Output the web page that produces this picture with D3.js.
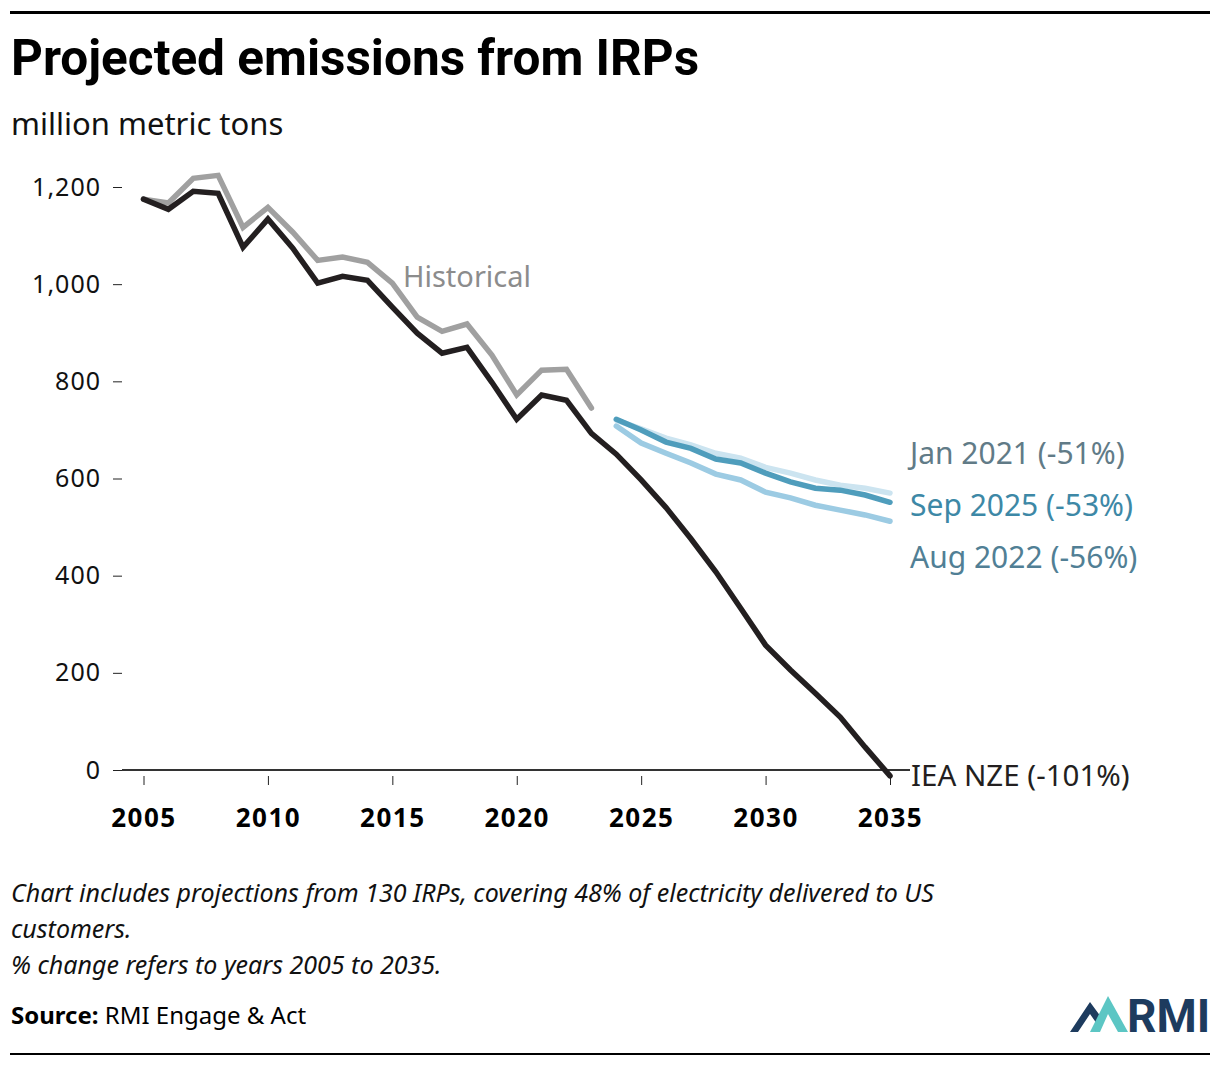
<!DOCTYPE html>
<meta charset="utf-8">
<head>
    <script src="https://d3js.org/d3.v7.min.js"></script>
    <style>
        body { margin: 0; background: #fff; }
        text { font-family: "Noto Sans", sans-serif; }
    </style>
</head>
<body>
<div id="my_dataviz"></div>
</body>

<script>

    // data (million metric tons)
    var histYears = d3.range(2005, 2024);
    var historical = [1175, 1167, 1218, 1224, 1117, 1158, 1107, 1049, 1056, 1045, 1002, 932, 903, 918, 854, 772, 823, 825, 745];

    var nzeYears = d3.range(2005, 2036);
    var ieaNze = [1175, 1154, 1191, 1187, 1076, 1134, 1074, 1002, 1016, 1008, 953, 899, 858, 870, 798, 722, 772, 761, 693,
                  650, 597, 540, 476, 408, 333, 257, 206, 158, 109, 47, -12];

    var irpYears = d3.range(2024, 2036);
    var jan2021 = [720, 702, 683, 669, 652, 642, 623, 611, 597, 586, 580, 570];
    var aug2022 = [708, 673, 652, 632, 609, 597, 572, 560, 545, 535, 525, 512];
    var sep2025 = [722, 700, 675, 662, 640, 632, 611, 593, 580, 576, 566, 551];

    var yTicks = [0, 200, 400, 600, 800, 1000, 1200];
    var xTicks = [2005, 2010, 2015, 2020, 2025, 2030, 2035];

    var W = 1220, H = 1066;
    var svg = d3.select("#my_dataviz")
        .append("svg")
        .attr("width", W)
        .attr("height", H);

    // scales
    var x = d3.scaleLinear().domain([2005, 2035]).range([143.5, 890]);
    var y = d3.scaleLinear().domain([0, 1200]).range([770, 187]);

    // top and bottom rules
    svg.append("rect").attr("x", 10).attr("y", 11).attr("width", 1200).attr("height", 3).attr("fill", "#000");
    svg.append("rect").attr("x", 10).attr("y", 1053).attr("width", 1200).attr("height", 2).attr("fill", "#000");

    // title + unit
    svg.append("text")
        .attr("x", 11).attr("y", 75)
        .style("font-family", "Roboto, sans-serif")
        .style("font-weight", 700)
        .style("font-size", "49.5px")
        .attr("fill", "#000")
        .text("Projected emissions from IRPs");

    svg.append("text")
        .attr("x", 11).attr("y", 135)
        .style("font-size", "31px")
        .attr("fill", "#111")
        .text("million metric tons");

    // Y axis
    var yAxis = svg.append("g")
        .attr("transform", "translate(122,0)")
        .call(d3.axisLeft(y).tickValues(yTicks).tickSize(9).tickPadding(12).tickFormat(d3.format(",")));
    yAxis.select(".domain").remove();
    yAxis.selectAll("line").attr("stroke", "#222");
    yAxis.selectAll("text").style("font-size", "25px").style("letter-spacing", "1px").attr("fill", "#111");

    // baseline
    svg.append("line")
        .attr("x1", 122).attr("x2", 910)
        .attr("y1", y(0)).attr("y2", y(0))
        .attr("stroke", "#333").attr("stroke-width", 2);

    // X axis
    var xAxis = svg.append("g")
        .attr("transform", "translate(0," + (y(0) + 6) + ")")
        .call(d3.axisBottom(x).tickValues(xTicks).tickSize(9).tickPadding(24).tickFormat(d3.format("d")));
    xAxis.select(".domain").remove();
    xAxis.selectAll("line").attr("stroke", "#222");
    xAxis.selectAll("text").style("font-size", "26px").style("font-weight", 700)
        .style("letter-spacing", "1.5px").attr("fill", "#000");

    // lines
    var line = d3.line()
        .x(function(d) { return x(d[0]); })
        .y(function(d) { return y(d[1]); });

    function drawLine(years, vals, color) {
        svg.append("path")
            .datum(d3.zip(years, vals))
            .attr("fill", "none")
            .attr("stroke", color)
            .attr("stroke-width", 5.5)
            .attr("stroke-linejoin", "miter")
            .attr("stroke-linecap", "round")
            .attr("d", line);
    }

    drawLine(histYears, historical, "#a0a0a0");
    drawLine(nzeYears, ieaNze, "#231f20");
    drawLine(irpYears, jan2021, "#cce4f0");
    drawLine(irpYears, aug2022, "#9ccbe3");
    drawLine(irpYears, sep2025, "#4f9dbc");

    // labels
    function label(xp, yp, txt, color, size) {
        svg.append("text")
            .attr("x", xp).attr("y", yp)
            .style("font-size", size + "px")
            .attr("fill", color)
            .text(txt);
    }
    label(403, 287, "Historical", "#8c8c8c", 29);
    label(910, 464, "Jan 2021 (-51%)", "#617b87", 30);
    label(910, 516, "Sep 2025 (-53%)", "#3d88a6", 30);
    label(910, 568, "Aug 2022 (-56%)", "#517f95", 30);
    label(911, 786, "IEA NZE (-101%)", "#231f20", 29.5);

    // notes
    var notes = ["Chart includes projections from 130 IRPs, covering 48% of electricity delivered to US",
                 "customers.",
                 "% change refers to years 2005 to 2035."];
    svg.selectAll(".note")
        .data(notes)
        .enter().append("text")
        .attr("class", "note")
        .attr("x", 11)
        .attr("y", function(d, i) { return 902 + i * 36; })
        .style("font-size", "25px")
        .style("font-style", "italic")
        .attr("fill", "#111")
        .text(function(d) { return d; });

    var src = svg.append("text")
        .attr("x", 11).attr("y", 1024)
        .style("font-size", "24px")
        .attr("fill", "#000");
    src.append("tspan").style("font-weight", 700).text("Source:");
    src.append("tspan").text(" RMI Engage & Act");

    // RMI logo
    var logo = svg.append("g").attr("transform", "translate(1070,996)");
    logo.append("path")
        .attr("d", "M0,36 L20,6 L31,21 L27,28 L20,18 L8,36 Z")
        .attr("fill", "#1d3b5e");
    logo.append("path")
        .attr("d", "M20,36 L38,0 L58,36 L48,36 L38,18 L30,36 Z")
        .attr("fill", "#5cc6c4");
    logo.append("text")
        .attr("x", 57).attr("y", 36)
        .style("font-family", "Roboto, sans-serif")
        .style("font-weight", 700)
        .style("font-size", "46px")
        .attr("fill", "#1d3b5e")
        .text("RMI");

</script>
